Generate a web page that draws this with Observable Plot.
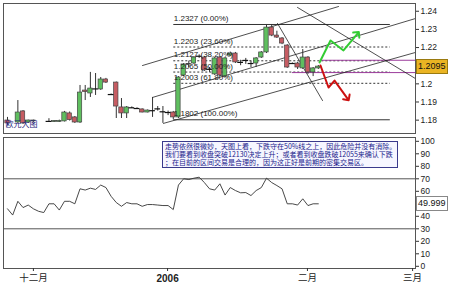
<!DOCTYPE html>
<html><head><meta charset="utf-8">
<script src="https://cdn.jsdelivr.net/npm/d3@7"></script>
<script src="https://cdn.jsdelivr.net/npm/@observablehq/plot@0.6"></script>
<style>
body{margin:0;background:#fff;}
#wrap{position:relative;width:456px;height:298px;overflow:hidden;font-family:"Liberation Sans",Arial,sans-serif;background:#fff;}
#wrap svg{position:absolute;left:0;}
.note{position:absolute;left:162px;top:141px;width:230px;height:25px;border:1px solid #3a3a8c;background:#f6f6ff;color:#22228c;font-family:"Noto Sans CJK SC",sans-serif;font-size:7px;line-height:8px;padding:0 2px;white-space:nowrap;overflow:hidden;}
.lbl{position:absolute;font-size:8.5px;line-height:12px;height:12px;padding:0 1px;color:#111;}
</style></head><body><div id="wrap"></div>
<script>
// ---- data ----
const slots = d3.range(0, 61);
const opens  = [1.1798,null,1.1787,1.1848,1.1787,1.1793,null,null,1.1793,1.1790,1.1790,1.1793,1.1837,1.1815,1.1787,1.1963,1.1947,1.1974,1.1969,1.2024,1.1941,1.2007,1.1870,1.1837,1.1870,1.1864,1.1859,1.1842,1.1853,1.1864,1.1848,1.1842,1.1842,1.1815,1.2046,1.2107,1.2112,1.2150,1.2145,1.2082,1.2052,1.2145,1.2040,1.2156,1.2167,1.2118,1.2129,1.2112,1.2112,1.2145,1.2173,1.2310,1.2266,1.2250,1.2211,1.2112,1.2112,1.2085,1.2145,1.2063,1.2085];
const highs  = [1.1815,null,1.1908,1.1853,1.1800,1.1800,null,null,1.1808,1.1798,1.1800,1.1848,1.1845,1.1820,1.1991,1.1991,1.2063,1.2057,1.2035,1.2030,1.1944,1.2010,1.1919,1.1875,1.1873,1.1868,1.1862,1.1856,1.1925,1.1875,1.1875,1.1850,1.1848,1.2040,1.2112,1.2125,1.2150,1.2160,1.2150,1.2090,1.2145,1.2150,1.2145,1.2175,1.2173,1.2130,1.2140,1.2125,1.2145,1.2178,1.2327,1.2327,1.2290,1.2255,1.2216,1.2115,1.2118,1.2189,1.2150,1.2090,1.2101];
const lows   = [1.1771,null,1.1782,1.1776,1.1782,1.1788,null,null,1.1787,1.1787,1.1787,1.1790,1.1795,1.1782,1.1782,1.1908,1.1925,1.1936,1.1964,1.2002,1.1938,1.1809,1.1809,1.1809,1.1864,1.1860,1.1840,1.1840,1.1815,1.1850,1.1782,1.1825,1.1802,1.1809,1.2040,1.2090,1.2107,1.2140,1.2068,1.2063,1.2046,1.2040,1.2035,1.2150,1.2112,1.2100,1.2107,1.2090,1.2090,1.2140,1.2167,1.2260,1.2250,1.2216,1.2085,1.2107,1.2079,1.2079,1.2052,1.2040,1.2079];
const closes = [1.1782,null,1.1842,1.1782,1.1798,1.1798,null,null,1.1793,1.1795,1.1796,1.1842,1.1800,1.1787,1.1952,1.1955,1.1974,1.1972,1.2024,1.2007,1.1941,1.1875,1.1837,1.1870,1.1868,1.1864,1.1842,1.1853,1.1852,1.1862,1.1846,1.1842,1.1815,1.2035,1.2107,1.2110,1.2145,1.2152,1.2074,1.2080,1.2140,1.2046,1.2140,1.2167,1.2118,1.2118,1.2129,1.2112,1.2140,1.2173,1.2310,1.2266,1.2255,1.2222,1.2090,1.2112,1.2090,1.2145,1.2063,1.2085,1.2095];
const rsi = [46,41,52,47,49,46,44,43,50,50,45,52,52,50,62,61,62.5,61.5,65,63,56,51,48,51,50,50,48,49.4,49.4,49,48.6,48.6,45.4,65,70,69.4,70.5,71.3,67,62,61,66,57,63,60.6,58.8,59,56.6,60.6,63,70.5,67,64.6,62,50,50,49,54,48.6,50,50];
const monthTicks = [5.0, 30.9, 57.9, 78.2];
const monthLabels = ["十二月", "2006", "二月", "三月"];
const priceTicks = [1.18, 1.19, 1.2, 1.21, 1.22, 1.23, 1.24];
const rsiTicks = [0,10,20,30,40,50,60,70,80,90,100];
const rsiBands = [30, 70];
const fibLevels = [1.2327, 1.2203, 1.2127, 1.2065, 1.2003, 1.1802];
const fibPct = ["0.00%", "23.60%", "38.20%", "50.00%", "61.80%", "100.00%"];
const fibSpan = [32.1, 73.9];
const keyLevels = [1.2130, 1.2062];
const keyStart = [60.4, 55.0];
const channels = [
  [[26.06, 1.2101], [63.9, 1.2426]],
  [[27.99, 1.1925], [78.76, 1.2360]],
  [[30.1, 1.1782], [78.76, 1.2173]],
  [[52.12, 1.2333], [60.81, 1.1908]],
  [[55.98, 1.2421], [78.76, 1.2029]]
];
const upPath = [[60.23, 1.2118], [62.36, 1.2239], [64.86, 1.2184], [67.57, 1.2277]];
const downPath = [[60.42, 1.2101], [61.97, 1.1980], [63.13, 1.2018], [65.64, 1.1919]];
const lastPrice = 1.2095;
const lastRsi = 49.999;

// ---- build ----
const xDomain = [-0.772, 78.76];
const candles = slots.map((s, i) => ({s, o: opens[i], h: highs[i], l: lows[i], c: closes[i]})).filter(d => d.o != null);
const doji = d => Math.abs(d.c - d.o) < 0.00025;
const GREEN = "#5fbf5f", RED = "#c65c62";
const fib = fibLevels.map((v, i) => ({v, label: `${v.toFixed(4)} (${fibPct[i]})`, dash: (i === 0 || i === fibLevels.length - 1) ? null : "2,2"}));
const channelSegs = channels.flatMap((seg, k) => seg.map(([s, p]) => ({k, s, p})));
const rsiData = slots.map((s, i) => ({s, v: rsi[i]}));

const wrap = document.getElementById("wrap");
const style = {fontFamily: "'Liberation Sans', Arial, sans-serif", fontSize: "8.5px", background: "transparent", overflow: "visible"};

const topPlot = Plot.plot({
  width: 456, height: 135, marginLeft: 3, marginRight: 41, marginTop: 3, marginBottom: 2,
  style,
  x: {domain: xDomain, axis: null},
  y: {domain: [1.17264, 1.24427], axis: null},
  marks: [
    Plot.frame({stroke: "#555"}),
    Plot.ruleY(fib.filter(d => !d.dash), {y: "v", x1: fibSpan[0], x2: fibSpan[1], stroke: "#333", strokeWidth: 1}),
    Plot.ruleY(fib.filter(d => d.dash), {y: "v", x1: fibSpan[0], x2: fibSpan[1], stroke: "#333", strokeWidth: 1, strokeDasharray: "2,2"}),
    Plot.ruleY(keyLevels, {y: d => d, x1: (d, i) => keyStart[i], x2: xDomain[1], stroke: "#9c3c9c", strokeWidth: 1}),
    Plot.line(channelSegs, {x: "s", y: "p", z: "k", stroke: "#222", strokeWidth: 0.8, clip: true}),
    Plot.ruleX(candles, {x: "s", y1: "l", y2: "h", stroke: "#333", strokeWidth: 1}),
    Plot.rect(candles.filter(d => !doji(d)), {x1: d => d.s - 0.42, x2: d => d.s + 0.42, y1: "o", y2: "c", fill: d => d.c > d.o ? GREEN : RED, stroke: "#444", strokeWidth: 0.7}),
    Plot.ruleY(candles.filter(doji), {y: "c", x1: d => d.s - 0.55, x2: d => d.s + 0.55, stroke: "#111", strokeWidth: 1.2}),
    Plot.line(upPath, {x: d => d[0], y: d => d[1], stroke: "#33cc33", strokeWidth: 2, markerEnd: "arrow"}),
    Plot.line(downPath, {x: d => d[0], y: d => d[1], stroke: "#cc1111", strokeWidth: 2, markerEnd: "arrow"}),
    Plot.text(fib, {x: fibSpan[0], y: "v", text: "label", textAnchor: "start", dy: -6, fontSize: 8, fill: "#222"}),
    Plot.text(["欧元大图"], {x: xDomain[0], y: 1.1778, text: d => d, textAnchor: "start", dx: 2, fontSize: 8, fill: "#23237a", fontFamily: "'Noto Sans CJK SC', sans-serif"}),
    Plot.axisY({anchor: "right", label: null, ticks: priceTicks, tickSize: 3, tickPadding: 2, tickFormat: d => String(+d.toFixed(2)), fill: "#222", stroke: "#333"})
  ]
});
topPlot.style.top = "0px";
wrap.appendChild(topPlot);

const botPlot = Plot.plot({
  width: 456, height: 163, marginLeft: 3, marginRight: 41, marginTop: 2, marginBottom: 30,
  style,
  x: {domain: xDomain, axis: null},
  y: {domain: [-1.76, 103.04], axis: null},
  marks: [
    Plot.frame({stroke: "#555"}),
    Plot.ruleY(rsiBands, {stroke: "#555", strokeWidth: 1}),
    Plot.line(rsiData, {x: "s", y: "v", stroke: "#333", strokeWidth: 0.9}),
    Plot.axisY({anchor: "right", label: null, ticks: rsiTicks, tickSize: 3, tickPadding: 2, fill: "#222", stroke: "#333"}),
    Plot.axisX({anchor: "bottom", label: null, ticks: monthTicks.filter((t, i) => i !== 1), tickFormat: t => monthLabels[monthTicks.indexOf(t)], tickSize: 3, tickPadding: 3, fontSize: 9.5, fontFamily: "'Noto Sans CJK SC', sans-serif", fill: "#222", stroke: "#333"}),
    Plot.axisX({anchor: "bottom", label: null, ticks: [monthTicks[1]], tickFormat: () => monthLabels[1], tickSize: 3, tickPadding: 3, fontSize: 10, fontWeight: "bold", fill: "#222", stroke: "#333"})
  ]
});
botPlot.style.top = "135px";
wrap.appendChild(botPlot);

// overlays positioned through the plot scales
const yTop = topPlot.scale("y"), yBot = botPlot.scale("y");
const pl = document.createElement("div");
pl.className = "lbl";
pl.style.cssText += `left:416px;top:${yTop.apply(lastPrice) - 7}px;background:#eab423;border:1px solid #9a7a10;height:13px;line-height:13px;font-size:9px;`;
pl.textContent = lastPrice.toFixed(4);
wrap.appendChild(pl);

const rl = document.createElement("div");
rl.className = "lbl";
rl.style.cssText += `left:416px;top:${135 + yBot.apply(lastRsi) - 7}px;background:#fff;border:1px solid #888;height:13px;line-height:13px;font-size:9px;`;
rl.textContent = lastRsi.toFixed(3);
wrap.appendChild(rl);

const note = document.createElement("div");
note.className = "note";
note.innerHTML = "走势依然很微妙，天图上看，下跌守在50%线之上，因此危险并没有消除。<br>我们要看到收盘突破12130决定上升；或者看到收盘跌破12055来确认下跌<br>；在目前的区间交易是合理的，因为这正好是前期的密集交易区。";
wrap.appendChild(note);
</script></body></html>
